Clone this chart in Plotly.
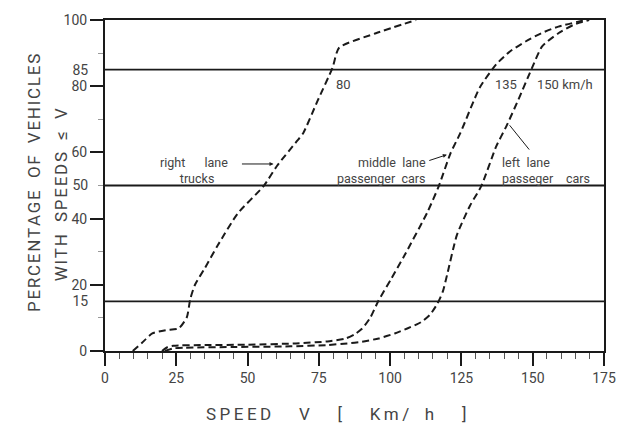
import plotly.graph_objects as go

# ---- data ----
trucks_x = [9.75, 13, 16.6, 21.3, 25.8, 28.7, 29.9, 31.6, 35, 39.6, 46.5, 55.7, 60.3, 67.2, 69.5, 74.5, 79.8, 82.1, 95, 109.1]
trucks_y = [0, 2.5, 5.3, 6.3, 6.8, 10.2, 15.7, 20.1, 25, 32, 41.5, 49.9, 55.9, 63.3, 65.8, 75.5, 85.6, 91.6, 96, 100]

middle_x = [20, 22, 24, 35, 50, 67, 78, 84.4, 87.5, 90.1, 93, 95.9, 100.5, 105.1, 113.1, 117.1, 121.2, 124.6, 131.5, 137.2, 142, 147.5, 153, 159, 168.5]
middle_y = [0, 1.2, 1.6, 1.8, 1.9, 2.3, 2.9, 3.8, 5, 6.7, 10, 15.2, 22, 29, 42, 49.9, 59.8, 65.8, 79.7, 86.6, 90.5, 93.5, 96, 98, 100]

left_x = [21, 24, 28, 45, 65, 78, 85, 90.1, 96, 101.6, 106, 110.8, 114, 116.5, 118.5, 120, 123.4, 128, 132, 137.2, 140.7, 145, 149.8, 153.3, 159, 164.5, 169.8]
left_y = [0, 0.8, 1.0, 1.2, 1.4, 1.8, 2.3, 2.8, 3.8, 5.3, 6.8, 8.7, 11, 14.2, 18, 23.1, 35, 43.9, 49.9, 61.8, 67.8, 76, 85.6, 92, 96, 98.6, 100]

ref_levels = [15, 50, 85]
x_ticks = [0, 25, 50, 75, 100, 125, 150, 175]
y_major = [0, 20, 40, 60, 80, 100]
y_extra = [15, 50, 85]
pct_labels = ["80", "135", "150 km/h"]
pct_label_x = [80.3, 136.1, 150.9]

x_title = "SPEED  V  [  Km/ h  ]"
y_title1 = "PERCENTAGE OF VEHICLES"
y_title2 = "WITH SPEEDS ≤ V"

FONT = "Roboto"
INK = "#1a1a1a"
TXT = "#444"


def spaced(s, sp="\u2009"):
    return sp.join(list(s)).replace(" ", "\u2002")


fig = go.Figure()
dash = "7px,4px"
for xs, ys in [(trucks_x, trucks_y), (middle_x, middle_y), (left_x, left_y)]:
    fig.add_trace(go.Scatter(x=xs, y=ys, mode="lines",
                             line=dict(color=INK, width=2, dash=dash, shape="spline", smoothing=0.6),
                             showlegend=False, hoverinfo="skip"))

for lv in ref_levels:
    fig.add_hline(y=lv, line=dict(color=INK, width=1.8), layer="above")

# dummy trace to activate yaxis2 for extra labels
fig.add_trace(go.Scatter(x=[None], y=[None], yaxis="y2", showlegend=False))

ann = []
def txt(x, y, s, xanchor="center", size=12.5, align="center"):
    ann.append(dict(x=x, y=y, xref="x", yref="y", text=s, showarrow=False,
                    xanchor=xanchor, yanchor="middle", align=align,
                    font=dict(family=FONT, size=size, color=TXT)))

txt(31.2, 54.6, "right\u2003\u2002lane<br>\u2002trucks", "center", align="center")
txt(113.2, 54.6, "middle\u2002lane<br>passenger\u2002cars", "right", align="right")
txt(138.5, 54.6, "left\u2002lane<br>passeger\u2002\u2002cars", "left", align="left")
for s, xv in zip(pct_labels, pct_label_x):
    txt(xv, 80.5, s, "left", size=13)

ann.append(dict(x=59.1, y=56.5, ax=47.5, ay=56.5, xref="x", yref="y", axref="x", ayref="y",
                text="", showarrow=True, arrowhead=2, arrowsize=0.8, arrowwidth=1, arrowcolor=INK))
ann.append(dict(x=119.9, y=59.3, ax=113.2, ay=57.4, xref="x", yref="y", axref="x", ayref="y",
                text="", showarrow=True, arrowhead=2, arrowsize=0.8, arrowwidth=1, arrowcolor=INK))
ann.append(dict(x=141.9, y=68.2, ax=149.2, ay=60.4, xref="x", yref="y", axref="x", ayref="y",
                text="", showarrow=True, arrowhead=0, arrowwidth=1, arrowcolor=INK))

W, H = 628, 425
ML, MR, MT, MB = 105, 15, 15, 74
pw, ph = W - ML - MR, H - MT - MB

ann.append(dict(x=(340 - ML) / pw, y=-0.19, xref="paper", yref="paper", xanchor="center", yanchor="middle",
                text=spaced(x_title), showarrow=False, font=dict(family=FONT, size=17, color=TXT)))
ann.append(dict(x=(20 - ML) / pw, y=(H - MB - 181) / ph, xref="paper", yref="paper",
                text=spaced(y_title1, "\u200a"), showarrow=False,
                textangle=-90, font=dict(family=FONT, size=17, color=TXT)))
ann.append(dict(x=(48 - ML) / pw, y=(H - MB - 193) / ph, xref="paper", yref="paper",
                text=spaced(y_title2, "\u200a"), showarrow=False,
                textangle=-90, font=dict(family=FONT, size=17, color=TXT)))

fig.update_layout(
    width=W, height=H,
    margin=dict(l=ML, r=MR, t=MT, b=MB),
    paper_bgcolor="white", plot_bgcolor="white",
    annotations=ann,
    xaxis=dict(range=[0, 175], tickvals=x_ticks, ticks="outside", ticklen=13, tickwidth=1.8,
               tickcolor=INK, showline=True, linewidth=2, linecolor=INK, mirror=True,
               showgrid=False, zeroline=False,
               tickfont=dict(family=FONT, size=14, color=TXT),
               minor=dict(dtick=5, ticks="outside", ticklen=6, tickwidth=1, tickcolor="#555")),
    yaxis=dict(range=[0, 100], tickvals=y_major, ticks="outside", ticklen=13, tickwidth=1.8,
               tickcolor=INK, showline=True, linewidth=2, linecolor=INK, mirror=True,
               showgrid=False, zeroline=False,
               tickfont=dict(family=FONT, size=14, color=TXT),
               minor=dict(dtick=10, ticks="outside", ticklen=5, tickwidth=1, tickcolor="#999")),
    yaxis2=dict(range=[0, 100], overlaying="y", side="left", tickvals=y_extra,
                ticks="outside", ticklen=13, tickcolor="rgba(0,0,0,0)", showline=False,
                showgrid=False, zeroline=False,
                tickfont=dict(family=FONT, size=14, color=TXT)),
)

fig.write_html("out.html")
